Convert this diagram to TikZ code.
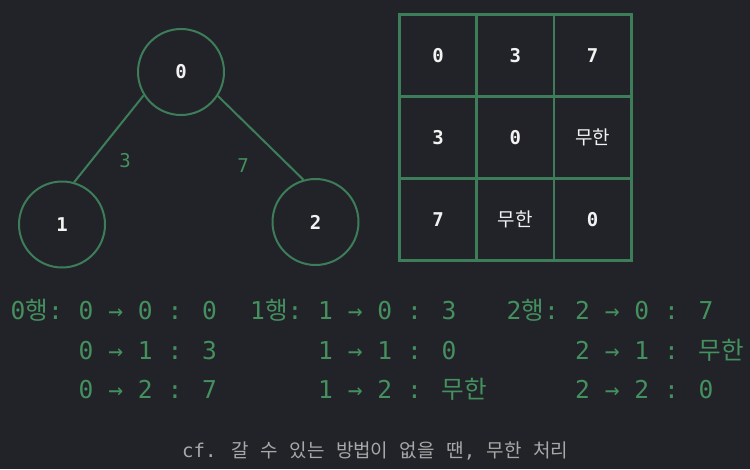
\documentclass[tikz,border=0pt]{standalone}
\usepackage{fontspec}
\setmainfont{DejaVu Sans Mono}
\newfontfamily\kr{Noto Sans CJK KR}
\definecolor{bg}{HTML}{212328}
\definecolor{gline}{HTML}{3E7D59}
\definecolor{gtext}{HTML}{45905F}
\definecolor{wtext}{HTML}{F2F2F2}
\definecolor{ctext}{HTML}{A8A8A8}
\begin{document}
\begin{tikzpicture}[x=1pt,y=-1pt,
  vertex/.style={circle,draw=gline,line width=2pt,minimum size=86pt,inner sep=0pt,
    text=wtext,font=\fontsize{19}{19}\selectfont\bfseries},
  edge/.style={draw=gline,line width=2pt},
  elabel/.style={inner sep=0pt,text=gtext,font=\fontsize{19}{19}\selectfont},
  cell/.style={rectangle,draw=gline,line width=2.5pt,minimum width=77.3pt,minimum height=82.1pt,
    inner sep=0pt,text=wtext,font=\fontsize{19}{19}\selectfont\bfseries},
  row/.style={anchor=base west,inner sep=0pt,text=gtext,font=\fontsize{24.6}{25}\selectfont},
  caption/.style={anchor=base west,inner sep=0pt,text=ctext,font=\fontsize{19}{19}\selectfont}
]
\fill[bg] (0,0) rectangle (750,469);
\useasboundingbox (0,0) rectangle (750,469);

% graph
\node[vertex] (v0) at (181,72) {0};
\node[vertex] (v1) at (62,224.5) {1};
\node[vertex] (v2) at (315.5,222) {2};
\draw[edge] (v0.212) -- (v1.74);
\draw[edge] (v0.327) -- (v2.106.6);
\node[elabel] (w01) at (125,161) {3};
\node[elabel] (w02) at (243,166) {7};

% matrix
\node[cell] (m00) at (438,55.35) {0};
\node[cell] (m01) at (515.3,55.35) {3};
\node[cell] (m02) at (592.6,55.35) {7};
\node[cell] (m10) at (438,137.45) {3};
\node[cell] (m11) at (515.3,137.45) {0};
\node[cell] (m12) at (592.6,137.45) {{\kr\mdseries 무한}};
\node[cell] (m20) at (438,219.55) {7};
\node[cell] (m21) at (515.3,219.55) {{\kr\mdseries 무한}};
\node[cell] (m22) at (592.6,219.55) {0};

% rows
\node[row] (l0) at (10.5,319) {0{\kr 행}:};
\node[row] (r00) at (78.5,319) {0 → 0 : 0};
\node[row] (r01) at (78.5,359) {0 → 1 : 3};
\node[row] (r02) at (78.5,398) {0 → 2 : 7};
\node[row] (l1) at (250,319) {1{\kr 행}:};
\node[row] (r10) at (318,319) {1 → 0 : 3};
\node[row] (r11) at (318,359) {1 → 1 : 0};
\node[row] (r12) at (318,398) {1 → 2 : {\kr 무한}};
\node[row] (l2) at (506.5,319) {2{\kr 행}:};
\node[row] (r20) at (575,319) {2 → 0 : 7};
\node[row] (r21) at (575,359) {2 → 1 : {\kr 무한}};
\node[row] (r22) at (575,398) {2 → 2 : 0};

% caption
\node[caption] (cap) at (182,457) {cf. {\kr 갈} {\kr 수} {\kr 있는} {\kr 방법이} {\kr 없을} {\kr 땐}, {\kr 무한} {\kr 처리}};
\end{tikzpicture}
\end{document}
